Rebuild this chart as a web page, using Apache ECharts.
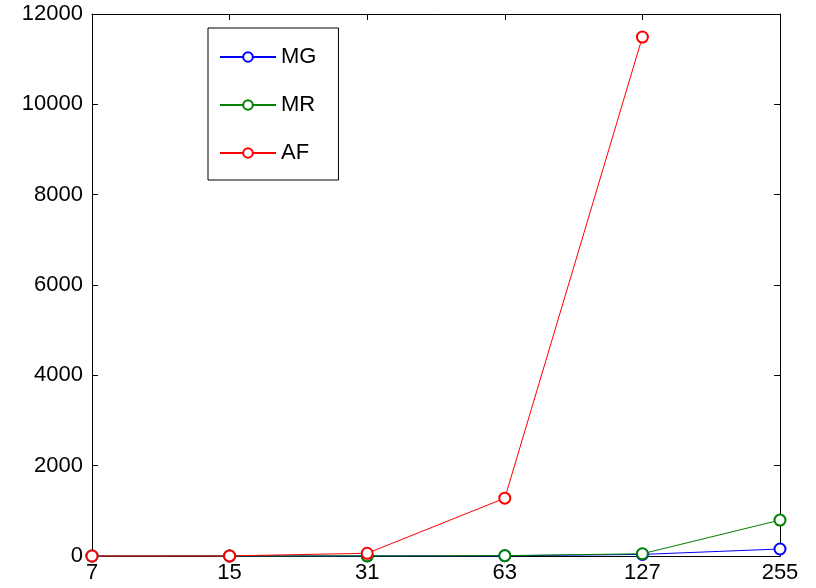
<!DOCTYPE html>
<html>
<head>
<meta charset="utf-8">
<script src="https://cdn.jsdelivr.net/npm/echarts@6/dist/echarts.min.js"></script>
<style>
  html, body { margin: 0; padding: 0; background: #fff; }
  #main { width: 816px; height: 588px; }
</style>
</head>
<body>
<div id="main"></div>
<script>
  // values
  var sizes = ['7', '15', '31', '63', '127', '255'];
  var mgValues = [0, 0, 2, 5, 35, 155];
  var mrValues = [0, 0, 3, 8, 50, 795];
  var afValues = [0, 2, 60, 1280, 11490, '-'];

  var fontName = '"Liberation Sans", Arial, sans-serif';

  function makeLine(name, color, values) {
    return {
      name: name,
      type: 'line',
      data: values,
      symbol: 'emptyCircle',
      symbolSize: 11,
      clip: false,
      color: color,
      lineStyle: { color: color, width: 1 },
      itemStyle: { color: color, borderWidth: 1 },
      emphasis: { disabled: true }
    };
  }

  var myChart = echarts.init(document.getElementById('main'));
  myChart.setOption({
    animation: false,
    backgroundColor: '#fff',
    textStyle: { fontFamily: fontName },
    grid: { left: 92, right: 36, top: 14, bottom: 32 },
    legend: {
      orient: 'vertical',
      left: 208,
      top: 28,
      data: ['MG', 'MR', 'AF'],
      itemWidth: 56,
      itemHeight: 12,
      itemGap: 26,
      padding: [18, 22, 16, 11],
      borderColor: '#000',
      borderWidth: 1,
      backgroundColor: '#fff',
      textStyle: { fontSize: 22, color: '#000', fontFamily: fontName }
    },
    xAxis: [{
      type: 'category',
      data: sizes,
      boundaryGap: false,
      position: 'bottom',
      axisLine: { lineStyle: { color: '#000', width: 1 } },
      axisTick: { inside: true, length: 6, lineStyle: { color: '#000' } },
      axisLabel: { color: '#000', fontSize: 22, margin: 6, fontFamily: fontName },
      splitLine: { show: false }
    }, {
      type: 'category',
      data: sizes,
      boundaryGap: false,
      position: 'top',
      axisLine: { onZero: false, lineStyle: { color: '#000', width: 1 } },
      axisTick: { inside: true, length: 6, lineStyle: { color: '#000' } },
      axisLabel: { show: false },
      splitLine: { show: false }
    }],
    yAxis: [{
      type: 'value',
      min: 0,
      max: 12000,
      interval: 2000,
      position: 'left',
      axisLine: { show: true, lineStyle: { color: '#000', width: 1 } },
      axisTick: { show: true, inside: true, length: 6, lineStyle: { color: '#000' } },
      axisLabel: {
        color: '#000', fontSize: 22, margin: 9, fontFamily: fontName,
        formatter: function (v) { return String(v); }
      },
      splitLine: { show: false }
    }, {
      type: 'value',
      min: 0,
      max: 12000,
      interval: 2000,
      position: 'right',
      axisLine: { show: true, lineStyle: { color: '#000', width: 1 } },
      axisTick: { show: true, inside: true, length: 6, lineStyle: { color: '#000' } },
      axisLabel: { show: false },
      splitLine: { show: false }
    }],
    series: [
      makeLine('MG', '#0000ff', mgValues),
      makeLine('MR', '#008000', mrValues),
      makeLine('AF', '#ff0000', afValues)
    ]
  });
</script>
</body>
</html>
